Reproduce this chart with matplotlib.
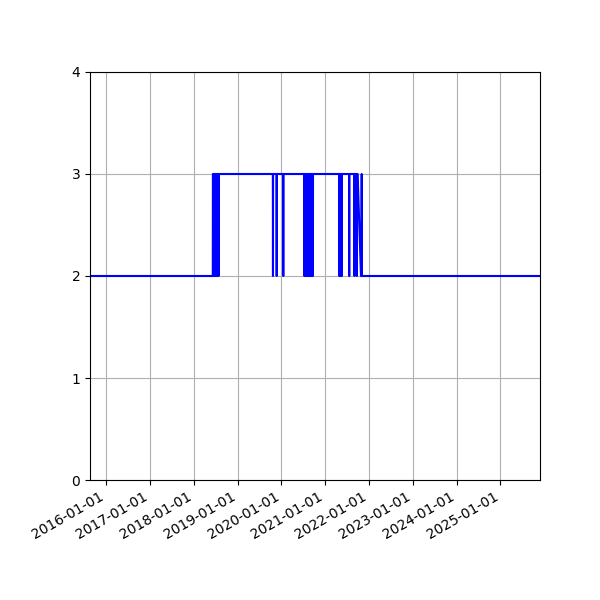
import numpy as np
import pandas as pd
import matplotlib
matplotlib.use("Agg")
import matplotlib.pyplot as plt
import matplotlib.dates as mdates

# ---- data ----
series_start = "2015-08-19"
series_end = "2025-11-27"
base_value = 2
high_value = 3
high_periods = [("2018-06-09", "2021-09-28"), ("2021-11-01", "2021-11-01")]
dip_dates = [
    "2018-06-17", "2018-06-25", "2018-07-03", "2018-07-11", "2018-07-19", "2018-07-27",
    "2019-10-23", "2019-11-23", "2020-01-17",
    "2020-07-10", "2020-07-18", "2020-07-26", "2020-08-03", "2020-08-11",
    "2020-08-19", "2020-08-27", "2020-09-04", "2020-09-12", "2020-09-20",
    "2021-04-28", "2021-05-06", "2021-05-13", "2021-05-19",
    "2021-07-20", "2021-09-02", "2021-09-22",
]
gap_period = ("2021-09-29", "2021-10-25")
y_ticks = [0, 1, 2, 3, 4]

# ---- build series ----
dates = pd.date_range(series_start, series_end, freq="D")
values = pd.Series(base_value, index=dates, dtype=float)
for s, e in high_periods:
    values[s:e] = high_value
values[pd.to_datetime(dip_dates)] = base_value
values = values.drop(values[gap_period[0]:gap_period[1]].index)

fig = plt.figure(figsize=(6, 6), dpi=100)
ax = fig.add_axes([0.15, 0.2, 0.75, 0.68])
ax.plot(values.index, values.values, color="blue", linewidth=1.5)
ax.set_xlim(pd.Timestamp(series_start), pd.Timestamp(series_end))
ax.set_ylim(0, 4)
ax.set_yticks(y_ticks)
ax.xaxis.set_major_locator(mdates.YearLocator())
ax.xaxis.set_major_formatter(mdates.DateFormatter("%Y-%m-%d"))
ax.grid(True)
for lbl in ax.get_xticklabels():
    lbl.set_rotation(30)
    lbl.set_horizontalalignment("right")

fig.savefig("out.png", dpi=100)
